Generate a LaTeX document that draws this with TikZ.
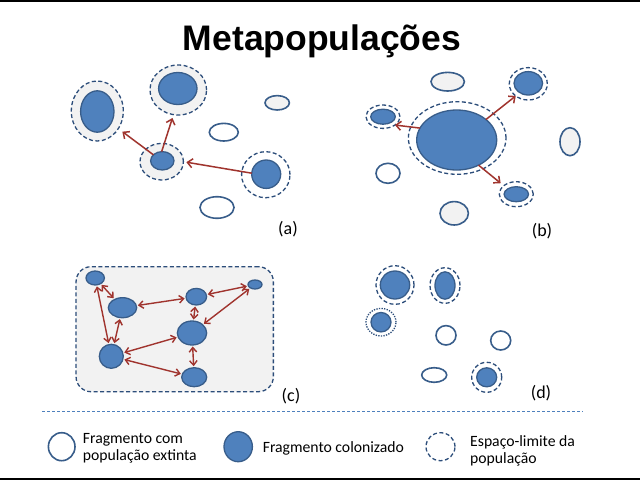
\documentclass[tikz,border=0pt]{standalone}
\usepackage{fontspec}
\setmainfont{Carlito}
\newfontfamily\titlefont{Liberation Sans}
\usetikzlibrary{shapes.geometric,arrows.meta}
\definecolor{pblue}{HTML}{4F81BD}
\definecolor{pedge}{HTML}{385D8A}
\definecolor{hedge}{HTML}{2C4D7A}
\definecolor{lgray}{HTML}{F2F2F2}
\definecolor{arrred}{RGB}{160,52,46}
\definecolor{sepblue}{HTML}{4F81BD}
\begin{document}
\begin{tikzpicture}[x=1pt,y=-1pt,
  patch/.style={ellipse, inner sep=0pt, outer sep=0pt, line width=1.3pt},
  col/.style={patch, fill=pblue, draw=pedge},
  ext/.style={patch, fill=white, draw=pedge, line width=1.6pt},
  extg/.style={patch, fill=lgray, draw=pedge, line width=1.6pt},
  halo/.style={patch, draw=hedge, fill=white, dash pattern=on 4pt off 2.5pt, line width=1.3pt},
  halog/.style={halo, fill=lgray},
  halodot/.style={patch, draw=hedge, fill=white, dash pattern=on 1.3pt off 1.3pt, line width=1.3pt},
  arr/.style={draw=arrred, line width=1.5pt, -{Straight Barb[length=5pt,width=9pt]}},
  dbl/.style={draw=arrred, line width=1.4pt, {Straight Barb[length=4.5pt,width=7.5pt]}-{Straight Barb[length=4.5pt,width=7.5pt]}, shorten <=1.5pt, shorten >=1.5pt},
  plabel/.style={font=\fontsize{18}{21}\selectfont, inner sep=0pt},
  ltext/.style={font=\fontsize{15.7}{19}\selectfont, inner sep=0pt, anchor=base west},
  border/.style={draw=black, line width=2pt}
]
\useasboundingbox (0,0) rectangle (640,480);
\fill[white] (0,0) rectangle (640,480);
% frame lines
\coordinate (tl) at (0,0.8); \coordinate (tr) at (640,0.8);
\coordinate (bl) at (0,478.6); \coordinate (br) at (640,478.6);
\draw[border, line width=1.6pt] (tl) -- (tr);
\draw[border] (bl) -- (br);

% title
\node[font=\titlefont\bfseries\fontsize{35.5}{40}\selectfont, anchor=base, inner sep=0pt] (title) at (322,50) {Metapopulações};

% ---------- panel (a)
\node[halog, minimum width=52, minimum height=60] (a1h) at (97.3,111) {};
\node[col, minimum width=33.4, minimum height=41.4] (a1) at (97.3,111.5) {};
\node[halog, minimum width=56.6, minimum height=50] (a2h) at (178.3,90) {};
\node[col, minimum width=38.4, minimum height=32] (a2) at (177.8,88.5) {};
\node[extg, minimum width=24.4, minimum height=14.4] (a3) at (277.2,102.8) {};
\node[ext, minimum width=29, minimum height=17.6] (a4) at (223.8,132.2) {};
\node[halog, minimum width=43.4, minimum height=36.6] (a5h) at (161.7,161.7) {};
\node[col, minimum width=23.4, minimum height=18.4] (a5) at (162.3,160.8) {};
\node[halo, minimum width=48.4, minimum height=46] (a6h) at (265.8,174.7) {};
\node[col, minimum width=29, minimum height=28.4] (a6) at (266.2,174.2) {};
\node[ext, minimum width=34, minimum height=21.6] (a7) at (217,207.5) {};
\draw[arr, shorten >=5pt] (a5.146) -- (a1h.320);
\draw[arr, shorten >=3.5pt] (a5.94) -- (a2h.259);
\draw[arr, shorten >=3pt] (a6.176) -- (a5h.0);
\node[plabel] (la) at (288,229) {(a)};

% ---------- panel (b)
\node[extg, minimum width=33.4, minimum height=18.6] (b1) at (447.7,81.7) {};
\node[halo, minimum width=38, minimum height=32.4] (b2h) at (528.3,83.8) {};
\node[col, minimum width=28.6, minimum height=23.4] (b2) at (528.3,83.3) {};
\node[halo, minimum width=34, minimum height=23.4] (b3h) at (383,116.7) {};
\node[col, minimum width=24.6, minimum height=15] (b3) at (383,116.7) {};
\node[halo, minimum width=97.6, minimum height=72.6] (b4h) at (457.2,138) {};
\node[col, minimum width=80, minimum height=60] (b4) at (456.7,140) {};
\node[extg, minimum width=20, minimum height=28] (b5) at (570,141.7) {};
\node[ext, minimum width=24, minimum height=20] (b6) at (388,173.3) {};
\node[halo, minimum width=34, minimum height=25] (b7h) at (516.3,194.2) {};
\node[col, minimum width=24.4, minimum height=15] (b7) at (516.3,194.2) {};
\node[extg, minimum width=28.4, minimum height=23.4] (b8) at (454.2,213.3) {};
\draw[arr] (b4.162) -- (b3h.325);
\draw[arr] (b4.35) -- (b2h.224);
\draw[arr, shorten >=4pt] (b4.311) -- (b7h.146);
\node[plabel] (lb) at (542,231) {(b)};

% ---------- panel (c)
\node[draw=hedge, fill=lgray, dash pattern=on 4pt off 2.5pt, line width=1.3pt, rounded corners=15pt, minimum width=197.3, minimum height=125, inner sep=0pt] (cbox) at (174.7,329.2) {};
\node[col, minimum width=18.4, minimum height=14] (c1) at (95.2,278) {};
\node[col, minimum width=28.4, minimum height=20] (c2) at (122.5,307.7) {};
\node[col, minimum width=20.6, minimum height=16.6] (c3) at (196.3,296.7) {};
\node[col, minimum width=14, minimum height=9] (c4) at (255,284.5) {};
\node[col, minimum width=29.4, minimum height=24] (c5) at (192,333) {};
\node[col, minimum width=24, minimum height=24] (c6) at (111.3,356.3) {};
\node[col, minimum width=25, minimum height=19] (c7) at (194.2,377.2) {};
\draw[dbl] (c1) -- (c2);
\draw[dbl] (c1) -- (c6);
\draw[dbl] (c2) -- (c3);
\draw[dbl] (c2) -- (c6);
\draw[dbl] (c3) -- (c4);
\draw[dbl] (c3) -- (c5);
\draw[dbl] (c4) -- (c5);
\draw[dbl] (c5) -- (c6);
\draw[dbl] (c5) -- (c7);
\draw[dbl] (c6) -- (c7);
\node[plabel] (lc) at (291,396) {(c)};

% ---------- panel (d)
\node[halo, minimum width=38, minimum height=38.6] (d1h) at (395,285) {};
\node[col, minimum width=29.4, minimum height=28] (d1) at (395,285) {};
\node[halo, minimum width=30, minimum height=35.6] (d2h) at (445,285.5) {};
\node[col, minimum width=20, minimum height=27.4] (d2) at (445,285.5) {};
\node[halodot, minimum width=30, minimum height=27.6] (d3h) at (381,322.2) {};
\node[col, minimum width=20, minimum height=19.4] (d3) at (381,322.2) {};
\node[ext, minimum width=20, minimum height=19.4] (d4) at (446,335.3) {};
\node[ext, minimum width=20, minimum height=19] (d5) at (500.7,340.5) {};
\node[ext, minimum width=25, minimum height=14.6] (d6) at (434.2,375) {};
\node[halo, minimum width=30, minimum height=30] (d7h) at (486.7,377.3) {};
\node[col, minimum width=20, minimum height=19] (d7) at (486.7,377.3) {};
\node[plabel] (ld) at (541,393) {(d)};

% ---------- separator
\coordinate (s1) at (42,411.5); \coordinate (s2) at (583,411.5);
\draw[draw=sepblue, line width=0.9pt, dash pattern=on 3pt off 2pt] (s1) -- (s2);

% ---------- legend
\node[ext, minimum width=26.6, minimum height=28] (l1) at (61.7,446.7) {};
\node[ltext] (t1a) at (82.7,443.3) {Fragmento com};
\node[ltext] (t1b) at (82.7,460) {população extinta};
\node[col, minimum width=28.4, minimum height=30] (l2) at (238.2,446.7) {};
\node[ltext] (t2) at (262.6,452) {Fragmento colonizado};
\node[halo, minimum width=29, minimum height=28] (l3) at (440.5,446.7) {};
\node[ltext] (t3a) at (470,446.7) {Espaço-limite da};
\node[ltext] (t3b) at (470,463.3) {população};
\end{tikzpicture}
\end{document}
